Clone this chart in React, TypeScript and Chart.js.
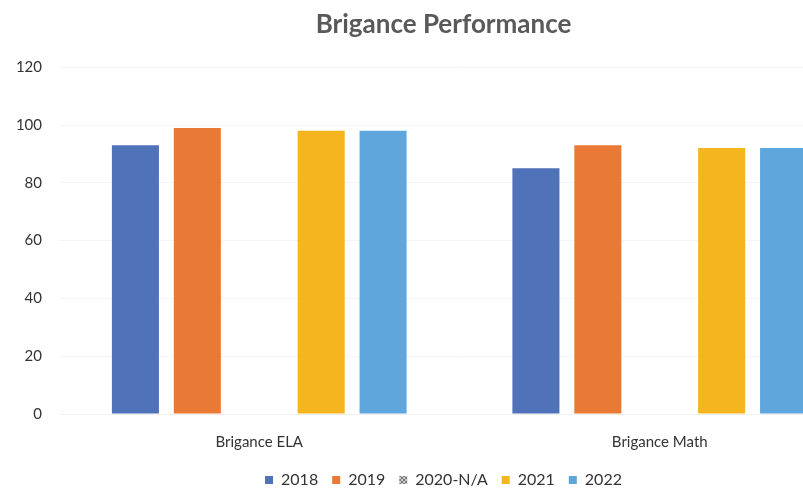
import React, { useEffect, useRef } from "react";
import { Chart, registerables } from "chart.js";

Chart.register(...registerables);

const categories = ["Brigance ELA", "Brigance Math"];
const seriesLabels = ["2018", "2019", "2020-N/A", "2021", "2022"];
const values2018 = [93, 85];
const values2019 = [99, 93];
const values2020: (number | null)[] = [null, null];
const values2021 = [98, 92];
const values2022 = [98, 92];
const yTicks = [0, 20, 40, 60, 80, 100, 120];

const colors = ["#4f72b8", "#e87a35", "#a5a5a5", "#f5b51e", "#5fa6dc"];

function makeHatch(): CanvasPattern | string {
  const c = document.createElement("canvas");
  c.width = 4;
  c.height = 4;
  const g = c.getContext("2d");
  if (!g) return "#a5a5a5";
  g.fillStyle = "#d0d0d0";
  g.fillRect(0, 0, 4, 4);
  g.strokeStyle = "#777777";
  g.lineWidth = 1;
  g.beginPath();
  g.moveTo(0, 4);
  g.lineTo(4, 0);
  g.moveTo(0, 0);
  g.lineTo(4, 4);
  g.stroke();
  const p = g.createPattern(c, "repeat");
  return p || "#a5a5a5";
}

export default function App() {
  const ref = useRef<HTMLCanvasElement | null>(null);

  useEffect(() => {
    if (!ref.current) return;
    const hatch = makeHatch();
    const all = [values2018, values2019, values2020, values2021, values2022];
    const chart = new Chart(ref.current, {
      type: "bar",
      data: {
        labels: categories,
        datasets: seriesLabels.map((lab, i) => ({
          label: lab,
          data: all[i],
          backgroundColor: i === 2 ? hatch : colors[i],
          borderWidth: 0,
          categoryPercentage: 0.773,
          barPercentage: 0.76,
        })),
      },
      options: {
        responsive: true,
        maintainAspectRatio: false,
        animation: false,
        layout: { padding: { left: 12, right: 15, top: 0, bottom: 0 } },
        plugins: {
          title: {
            display: true,
            text: "Brigance Performance",
            color: "#595959",
            font: { family: "Lato", size: 26, weight: "bold" },
            padding: { top: 9, bottom: 27 },
          },
          legend: {
            position: "bottom",
            labels: {
              boxWidth: 8,
              boxHeight: 8,
              padding: 14,
              color: "#333333",
              font: { family: "Lato", size: 16 },
            },
          },
          tooltip: { enabled: false },
        },
        scales: {
          x: {
            grid: { display: false },
            border: { display: true, color: "#f0f0f0" },
            ticks: {
              color: "#333333",
              font: { family: "Lato", size: 15 },
              padding: 11,
            },
            afterFit: (axis: any) => {
              axis.height = axis.height - 4;
            },
          },
          y: {
            min: 0,
            max: 120,
            afterBuildTicks: (axis: any) => {
              axis.ticks = yTicks.map((v) => ({ value: v }));
            },
            afterFit: (axis: any) => {
              axis.width = 47;
            },
            grid: { color: "#f5f5f5", drawTicks: false },
            border: { display: false },
            ticks: {
              color: "#333333",
              font: { family: "Lato", size: 15 },
              padding: 17,
            },
          },
          yRight: {
            position: "right",
            display: true,
            grid: { display: false },
            border: { display: false },
            ticks: { display: false },
            afterFit: (axis: any) => {
              axis.width = 15;
            },
          },
        },
      },
    });
    return () => chart.destroy();
  }, []);

  return (
    <div
      style={{
        position: "fixed",
        left: 0,
        top: 0,
        width: 803,
        height: 490,
        overflow: "hidden",
        background: "#ffffff",
      }}
    >
      <div style={{ position: "relative", width: 890, height: 498 }}>
        <canvas ref={ref} />
      </div>
    </div>
  );
}
